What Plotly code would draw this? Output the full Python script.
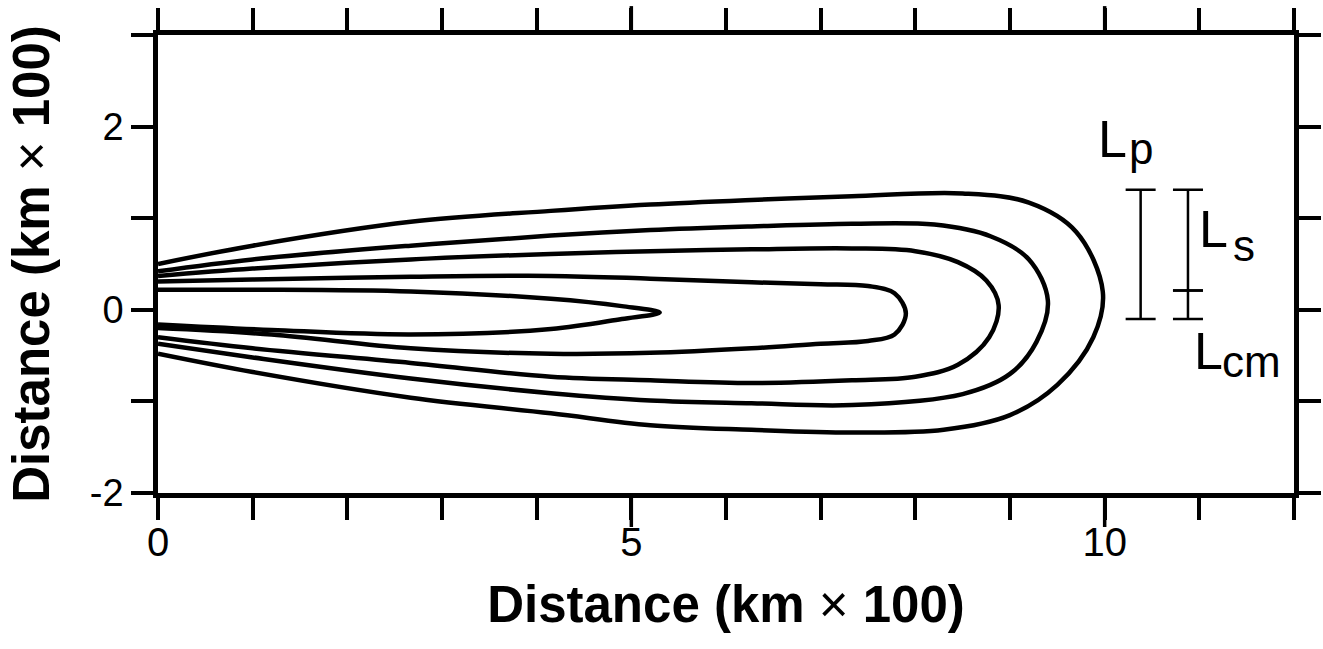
import plotly.graph_objects as go

# ---- data ----
x_tick_vals = list(range(0, 13))
x_tick_text = ["0", "", "", "", "", "5", "", "", "", "", "10", "", ""]
x_long_ticks = [5, 10]
y_tick_vals = [-2, -1, 0, 1, 2, 3]
y_tick_text = ["-2", "", "0", "", "2", ""]

c1_x = [0, 1.0, 2.67, 4.15, 4.9, 5.3, 4.9, 4.15, 2.67, 1.2, 0]
c1_y = [0.22, 0.22, 0.20, 0.12, 0.04, -0.03, -0.10, -0.21, -0.27, -0.22, -0.16]

c2_x = [0, 1.0, 2.67, 4.15, 5.2, 6.27, 7.0, 7.5, 7.78, 7.9, 7.78, 7.5, 7.0, 6.27, 5.2, 4.15, 2.67, 1.2, 0]
c2_y = [0.31, 0.33, 0.36, 0.37, 0.34, 0.30, 0.28, 0.26, 0.18, -0.04, -0.27, -0.34, -0.37, -0.42, -0.47, -0.48, -0.42, -0.27, -0.20]

c3_x = [0, 1.0, 2.67, 4.15, 5.2, 6.27, 7.33, 8.0, 8.45, 8.75, 8.88, 8.78, 8.45, 8.0, 7.33, 6.27, 5.2, 4.15, 2.67, 1.0, 0]
c3_y = [0.37, 0.45, 0.55, 0.61, 0.64, 0.66, 0.67, 0.64, 0.52, 0.32, 0.05, -0.30, -0.60, -0.73, -0.77, -0.80, -0.77, -0.73, -0.58, -0.42, -0.30]

c4_x = [0, 1.0, 2.67, 4.15, 5.2, 6.27, 7.33, 8.2, 8.8, 9.2, 9.40, 9.28, 9.0, 8.5, 7.33, 6.27, 5.2, 4.15, 2.67, 1.0, 0]
c4_y = [0.42, 0.55, 0.70, 0.81, 0.87, 0.91, 0.94, 0.93, 0.80, 0.55, 0.10, -0.35, -0.70, -0.92, -1.04, -1.02, -0.99, -0.91, -0.75, -0.52, -0.37]

c5_x = [0, 1.0, 2.67, 4.15, 5.2, 6.27, 7.33, 8.5, 9.2, 9.7, 9.98, 9.88, 9.5, 9.0, 8.3, 7.33, 6.27, 5.2, 4.15, 2.67, 1.0, 0]
c5_y = [0.50, 0.70, 0.96, 1.08, 1.15, 1.20, 1.24, 1.27, 1.17, 0.85, 0.20, -0.30, -0.82, -1.15, -1.31, -1.34, -1.31, -1.26, -1.13, -0.96, -0.68, -0.48]

contours_x = [c1_x, c2_x, c3_x, c4_x, c5_x]
contours_y = [c1_y, c2_y, c3_y, c4_y, c5_y]

# scale bars: name, x position, bottom, top
bar_names = ["Lp", "Ls", "Lcm"]
bar_x = [10.38, 10.88, 10.88]
bar_bottom = [-0.10, 0.21, -0.10]
bar_top = [1.31, 1.31, 0.21]

FONT = "Liberation Sans, Arial, sans-serif"
PLOT_H = 649 - 35 - 156  # plot-area height in px (for tick length in paper units)
LONG_TICK = 34 / PLOT_H

fig = go.Figure()
for cx, cy in zip(contours_x, contours_y):
    fig.add_trace(go.Scatter(
        x=cx, y=cy, mode="lines",
        line=dict(color="black", width=4.5, shape="spline", smoothing=1.0),
        hoverinfo="skip", showlegend=False))

fig.add_trace(go.Scatter(
    x=bar_x, y=bar_bottom, mode="markers",
    marker=dict(size=1, color="rgba(0,0,0,0)"),
    error_y=dict(type="data", symmetric=False,
                 array=[t - b for t, b in zip(bar_top, bar_bottom)],
                 arrayminus=[0, 0, 0],
                 color="black", thickness=2.5, width=15),
    hoverinfo="skip", showlegend=False))

# longer tick marks at the labelled positions (bottom and top)
shapes = []
for v in x_long_ticks:
    shapes.append(dict(type="line", xref="x", yref="paper", x0=v, x1=v,
                       y0=0, y1=-LONG_TICK, line=dict(color="black", width=3.5),
                       layer="above"))
    shapes.append(dict(type="line", xref="x", yref="paper", x0=v, x1=v,
                       y0=1, y1=1 + LONG_TICK * 0.85, line=dict(color="black", width=3.5),
                       layer="above"))

ann = []
def label(main, sub, xm, ym, xs, ys):
    ann.append(dict(x=xm, y=ym, text=main, showarrow=False, xref="x", yref="y",
                    font=dict(family=FONT, size=52, color="black")))
    ann.append(dict(x=xs, y=ys, text=sub, showarrow=False, xref="x", yref="y",
                    font=dict(family=FONT, size=44, color="black")))

label("L", "p", 10.08, 1.86, 10.38, 1.76)
label("L", "s", 11.15, 0.88, 11.47, 0.70)
label("L", "cm", 11.10, -0.45, 11.55, -0.56)

fig.update_layout(
    width=1323, height=649,
    margin=dict(l=158, r=29, t=35, b=156),
    paper_bgcolor="white", plot_bgcolor="white",
    annotations=ann, shapes=shapes,
    xaxis=dict(
        range=[0, 12], tickmode="array", tickvals=x_tick_vals, ticktext=x_tick_text,
        ticks="outside", ticklen=22, tickwidth=3.5, tickcolor="black",
        showline=True, linewidth=4.5, linecolor="black", mirror="ticks",
        showgrid=False, zeroline=False, automargin=False,
        ticklabelstandoff=-12,
        tickfont=dict(family=FONT, size=40, color="black"),
        title=dict(text="<b>Distance (km</b> × <b>100)</b>", standoff=25,
                   font=dict(family=FONT, size=51, color="black")),
    ),
    yaxis=dict(
        range=[-2, 3], tickmode="array", tickvals=y_tick_vals, ticktext=y_tick_text,
        ticks="outside", ticklen=22, tickwidth=3.5, tickcolor="black",
        showline=True, linewidth=4.5, linecolor="black", mirror="ticks",
        showgrid=False, zeroline=False, automargin=False,
        tickfont=dict(family=FONT, size=38, color="black"),
        title=dict(text="<b>Distance (km</b> × <b>100)</b>", standoff=26,
                   font=dict(family=FONT, size=51, color="black")),
    ),
)

fig.write_html("out.html", config={"displayModeBar": False},
               post_script="document.body.style.margin='0px';")
